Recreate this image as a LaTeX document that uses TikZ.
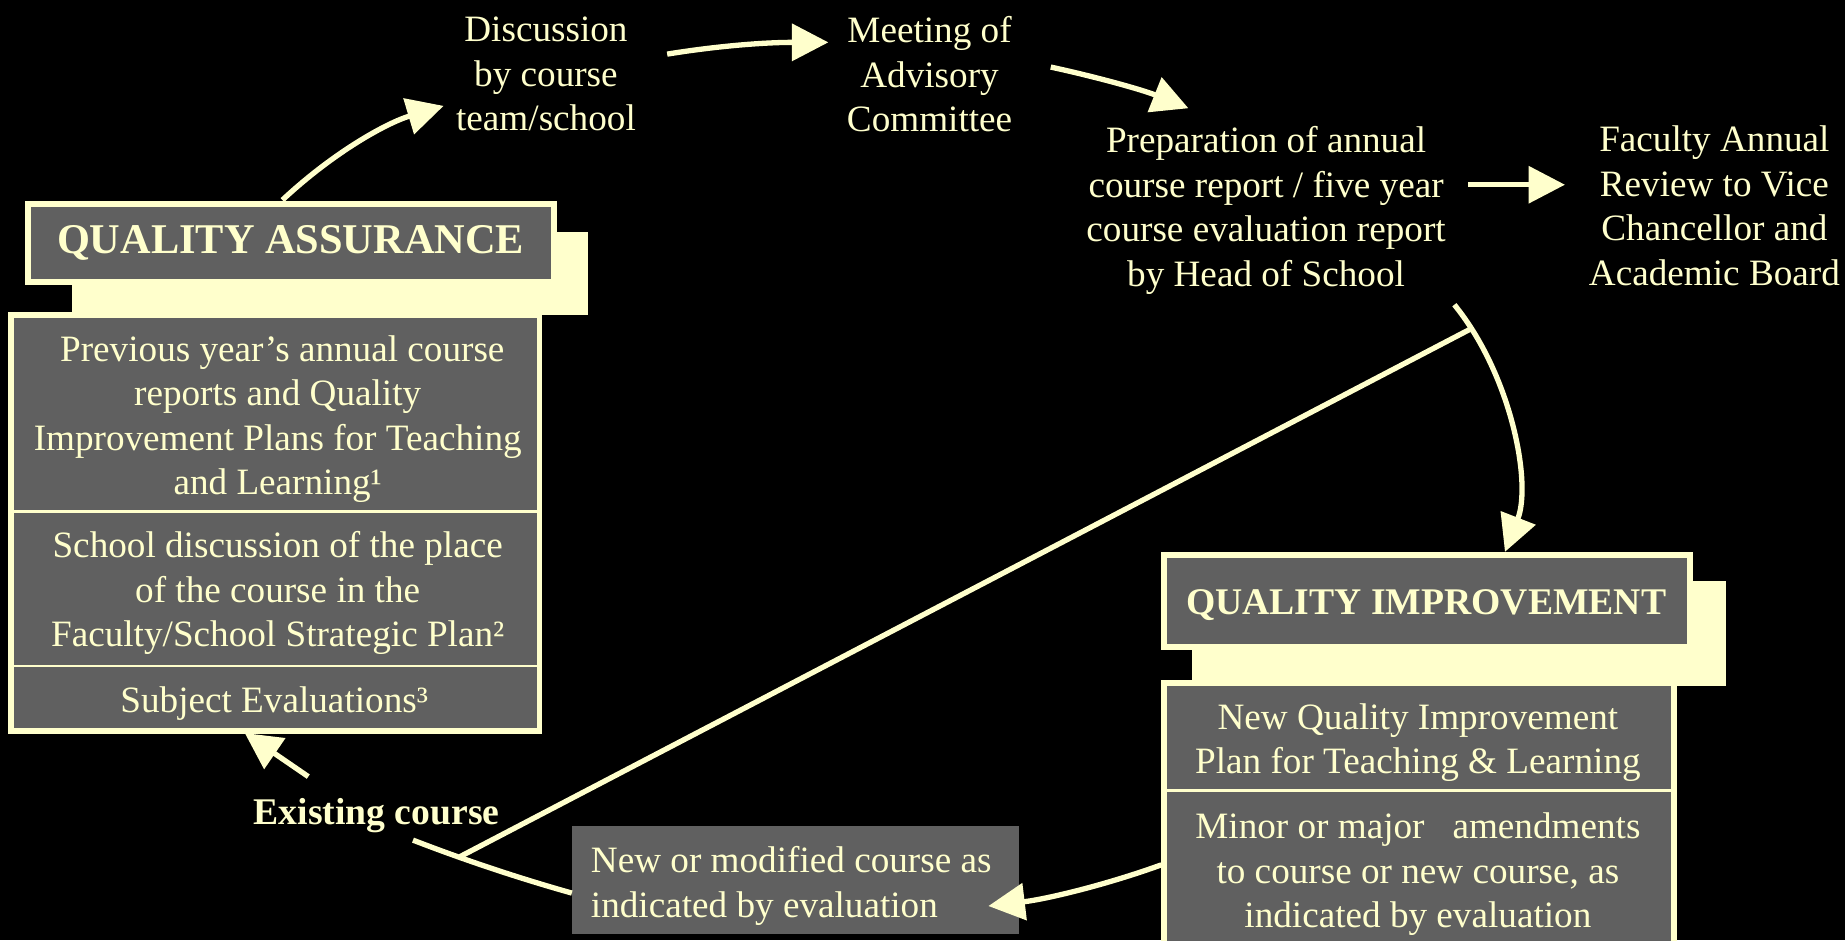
\documentclass[tikz,border=0pt]{standalone}
\usepackage{fontspec}
\setmainfont{Liberation Serif}
\usetikzlibrary{arrows.meta}
\definecolor{cream}{HTML}{FFFFCC}
\definecolor{boxgray}{HTML}{606060}
\begin{document}
\begin{tikzpicture}[x=1pt,y=1pt,
  txt/.style={text=cream, font=\fontsize{31.6}{37.8}\selectfont, align=center, inner sep=0pt},
  ttl/.style={text=cream, font=\bfseries\fontsize{32}{38}\selectfont, inner sep=0pt},
  conn/.style={draw=cream, line width=4.5pt},
  arr/.style={conn, -{Triangle[length=31pt,width=31pt]}},
  frame/.style={draw=cream, line width=5pt, fill=boxgray, inner sep=0pt},
  shadowbox/.style={fill=cream, inner sep=0pt},
  divider/.style={draw=cream, line width=2.5pt}]
\clip (0,0) rectangle (1568,-799);
\fill[black] (0,0) rectangle (1568,-799);

% ---------- Quality assurance ----------
\node[shadowbox, minimum width=439pt, minimum height=71pt] (qash) at (280.5,-232.5) {};
\node[frame, minimum width=447pt, minimum height=66pt] (qat) at (247,-206.5)
  {\textcolor{cream}{\bfseries\fontsize{36}{40}\selectfont QUALITY ASSURANCE}};
\node[frame, minimum width=449pt, minimum height=354pt] (qab) at (234,-444.5) {};
\coordinate (qd1) at (0,-435);
\coordinate (qd2) at (0,-566);
\draw[divider] (qab.west |- qd1) -- (qab.east |- qd1);
\draw[divider] (qab.west |- qd2) -- (qab.east |- qd2);
\node[txt] (qa1) at (236,-356) {\ Previous year’s annual course\\reports and Quality\\Improvement Plans for Teaching\\and Learning¹};
\node[txt] (qa2) at (236,-504) {School discussion of the place\\of the course in the\\Faculty/School Strategic Plan²};
\node[txt] (qa3) at (233,-598) {Subject Evaluations³};

% ---------- Quality improvement ----------
\node[shadowbox, minimum width=454pt, minimum height=89pt] (qish) at (1240,-538.5) {};
\node[frame, minimum width=447pt, minimum height=78pt] (qit) at (1213,-510.5) {};
\node[ttl] (qitt) at (1212,-514) {QUALITY IMPROVEMENT};
\node[frame, minimum width=433pt, minimum height=240pt] (qib) at (1206,-700.5) {};
\coordinate (qd3) at (0,-672);
\draw[divider] (qib.west |- qd3) -- (qib.east |- qd3);
\node[txt] (qi1) at (1205,-631) {New Quality Improvement\\Plan for Teaching \& Learning};
\node[txt] (qi2) at (1205,-743) {Minor or major \ \ amendments\\to course or new course, as\\indicated by evaluation};

% ---------- New or modified course ----------
\node[fill=boxgray, minimum width=380pt, minimum height=92pt, inner sep=0pt] (nm) at (676,-748) {};
\node[txt, align=left, anchor=west] (nmt) at (502,-753) {New or modified course as\\indicated by evaluation};
\node[ttl] (ex) at (320,-693) {Existing course};

% ---------- top row ----------
\node[txt] (disc) at (464,-63) {Discussion\\by course\\team/school};
\node[txt] (meet) at (790,-63) {Meeting of\\Advisory\\Committee};
\node[txt] (prep) at (1076,-179) {Preparation of annual\\course report / five year\\course evaluation report\\by Head of School};
\node[txt] (fac) at (1457,-175) {Faculty Annual\\Review to Vice\\Chancellor and\\Academic Board};

% ---------- connectors ----------
\coordinate (a1s) at (240,-170);
\coordinate (a1e) at (377,-90);
\draw[arr] (a1s) .. controls (285,-128) and (330,-104) .. (a1e);
\coordinate (a2s) at (567,-46);
\coordinate (a2e) at (704,-36);
\draw[arr] (a2s) .. controls (610,-39) and (650,-36) .. (a2e);
\coordinate (a3s) at (893,-57);
\coordinate (a3e) at (1010,-92);
\draw[arr] (a3s) .. controls (930,-65) and (970,-76) .. (a3e);
\coordinate (a4s) at (1248,-157);
\coordinate (a4e) at (1330,-157);
\draw[arr] (a4s) -- (a4e);
\coordinate (a5s) at (1236,-259);
\coordinate (a5e) at (1279,-469);
\draw[arr] (a5s) .. controls (1284,-318) and (1302,-410) .. (a5e);
\coordinate (j1) at (1249,-280);
\coordinate (j2) at (391,-728);
\draw[conn] (j1) -- (j2);
\coordinate (c6s) at (486,-759);
\coordinate (c6e) at (351,-714);
\draw[conn] (c6s) .. controls (440,-746) and (395,-731) .. (c6e);
\coordinate (a7s) at (262,-660);
\coordinate (a7e) at (208,-623);
\draw[arr] (a7s) -- (a7e);
\coordinate (a8s) at (987,-735);
\coordinate (a8e) at (840,-770);
\draw[arr] (a8s) .. controls (940,-752) and (890,-764) .. (a8e);
\end{tikzpicture}
\end{document}
